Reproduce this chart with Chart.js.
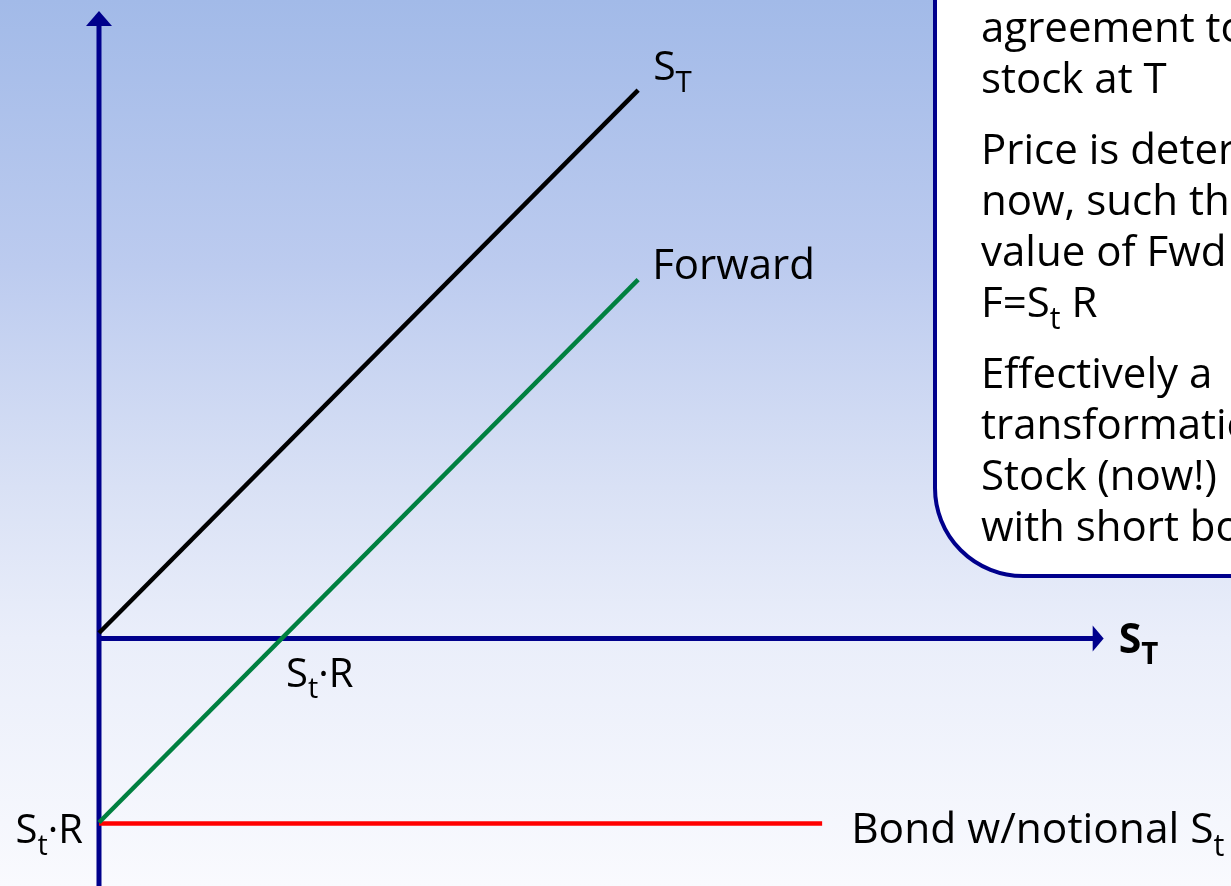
<!DOCTYPE html>
<html>
<head>
<meta charset="utf-8">
<script src="https://cdn.jsdelivr.net/npm/chart.js@4"></script>
<style>
  html, body { margin: 0; padding: 0; overflow: hidden; }
  #wrap { width: 1231px; height: 886px; position: relative; }
</style>
</head>
<body>
<div id="wrap"><canvas id="chart"></canvas></div>
<script>
// payoff lines (x = S_T, y = payoff, unit = S_t·R)
const stockX = [0, 2.93];
const stockY = [0.03, 2.98];
const fwdX = [0, 2.93];
const fwdY = [-1.0, 1.95];
const bondX = [0, 3.93];
const bondY = [-1.005, -1.005];

// axis extents + marked value on the x axis
const xAxisEnd = 5.46;
const yAxisTop = 3.41;
const strikeX = 1.0;

// text in the box (clipped at right edge like the slide)
const boxParas = [
  [[["agreement to"]], [["stock at T"]]],
  [[["Price is determined"]], [["now, such that"]], [["value of Fwd"]], [["F=S"], ["t", 1], [" R"]]],
  [[["Effectively a"]], [["transformation"]], [["Stock (now!)"]], [["with short bond"]]]
];

const NAVY = "#00008c";
const FONT = "'Open Sans', 'Noto Sans', sans-serif";

function drawRich(ctx, parts, x, y, size, bold, align) {
  const w = bold ? "bold " : "";
  let total = 0;
  parts.forEach(p => {
    ctx.font = w + (p[1] ? size * 0.72 : size) + "px " + FONT;
    total += ctx.measureText(p[0]).width;
  });
  let cx = align === "right" ? x - total : x;
  ctx.textAlign = "left";
  ctx.textBaseline = "alphabetic";
  ctx.fillStyle = "#000";
  parts.forEach(p => {
    const sub = !!p[1];
    ctx.font = w + (sub ? size * 0.72 : size) + "px " + FONT;
    ctx.fillText(p[0], cx, sub ? y + size * 0.29 : y);
    cx += ctx.measureText(p[0]).width;
  });
}

const slidePlugin = {
  id: "slide",
  beforeDraw(chart) {
    const ctx = chart.ctx;
    const g = ctx.createLinearGradient(0, 0, 0, chart.height);
    g.addColorStop(0, "#a2bae8");
    g.addColorStop(0.3, "#bccbef");
    g.addColorStop(0.55, "#d9e1f5");
    g.addColorStop(0.72, "#eaeefa");
    g.addColorStop(1, "#f9fafe");
    ctx.save();
    ctx.fillStyle = g;
    ctx.fillRect(0, 0, chart.width, chart.height);
    ctx.restore();
  },
  beforeDatasetsDraw(chart) {
    const ctx = chart.ctx;
    const xs = chart.scales.x, ys = chart.scales.y;
    const ox = xs.getPixelForValue(0), oy = ys.getPixelForValue(0);
    const xe = xs.getPixelForValue(xAxisEnd), yt = ys.getPixelForValue(yAxisTop);
    ctx.save();
    ctx.strokeStyle = NAVY;
    ctx.fillStyle = NAVY;
    ctx.lineWidth = 5;
    ctx.beginPath();
    ctx.moveTo(ox, chart.height);
    ctx.lineTo(ox, yt + 14);
    ctx.moveTo(ox, oy);
    ctx.lineTo(xe - 10, oy);
    ctx.stroke();
    // arrow heads
    ctx.beginPath();
    ctx.moveTo(ox, yt);
    ctx.lineTo(ox - 13, yt + 15);
    ctx.lineTo(ox + 13, yt + 15);
    ctx.closePath();
    ctx.fill();
    ctx.beginPath();
    ctx.moveTo(xe, oy);
    ctx.lineTo(xe - 11, oy - 13);
    ctx.lineTo(xe - 11, oy + 13);
    ctx.closePath();
    ctx.fill();
    ctx.restore();
  },
  afterDraw(chart) {
    const ctx = chart.ctx;
    const xs = chart.scales.x, ys = chart.scales.y;
    const px = v => xs.getPixelForValue(v), py = v => ys.getPixelForValue(v);
    ctx.save();

    // line labels
    drawRich(ctx, [["S"], ["T", 1]], px(stockX[1]) + 15, py(stockY[1]) - 10, 41);
    drawRich(ctx, [["Forward"]], px(fwdX[1]) + 14, py(fwdY[1]) - 1, 42);
    drawRich(ctx, [["Bond w/notional S"], ["t", 1]], px(bondX[1]) + 29, py(bondY[1]) + 20, 42.5);
    drawRich(ctx, [["S"], ["t", 1], ["·R"]], px(0) - 16, py(bondY[0]) + 20, 40, false, "right");
    drawRich(ctx, [["S"], ["t", 1], ["·R"]], px(strikeX) + 3, py(0) + 48, 40);
    drawRich(ctx, [["S"], ["T", 1]], px(xAxisEnd) + 15, py(0) + 14, 41, true);

    // rounded text box at top right
    const bx = 935, by = -200, bw = 500, bh = 776, r = 88;
    ctx.beginPath();
    ctx.moveTo(bx, by);
    ctx.lineTo(bx, by + bh - r);
    ctx.arcTo(bx, by + bh, bx + r, by + bh, r);
    ctx.lineTo(bx + bw, by + bh);
    ctx.lineTo(bx + bw, by);
    ctx.closePath();
    ctx.fillStyle = "#ffffff";
    ctx.fill();
    ctx.lineWidth = 4;
    ctx.strokeStyle = NAVY;
    ctx.stroke();

    let y = 42;
    boxParas.forEach((para, i) => {
      if (i > 0) y += 71 - 51;
      para.forEach(line => {
        drawRich(ctx, line, 981, y, 42);
        y += 51;
      });
    });
    ctx.restore();
  }
};

function line(xv, yv, color) {
  return {
    data: xv.map((x, i) => ({ x: x, y: yv[i] })),
    borderColor: color,
    borderWidth: 4.5,
    showLine: true,
    pointRadius: 0,
    fill: false
  };
}

const chart = new Chart(document.getElementById("chart"), {
  type: "scatter",
  data: {
    datasets: [
      line(stockX, stockY, "#000000"),
      line(fwdX, fwdY, "#008040"),
      line(bondX, bondY, "#ff0000")
    ]
  },
  options: {
    responsive: true,
    maintainAspectRatio: false,
    animation: false,
    layout: { padding: 0 },
    plugins: { legend: { display: false }, tooltip: { enabled: false } },
    scales: {
      x: { type: "linear", display: false, min: -0.538, max: 6.152 },
      y: { type: "linear", display: false, min: -1.345, max: 3.470 }
    }
  },
  plugins: [slidePlugin]
});
</script>
</body>
</html>
